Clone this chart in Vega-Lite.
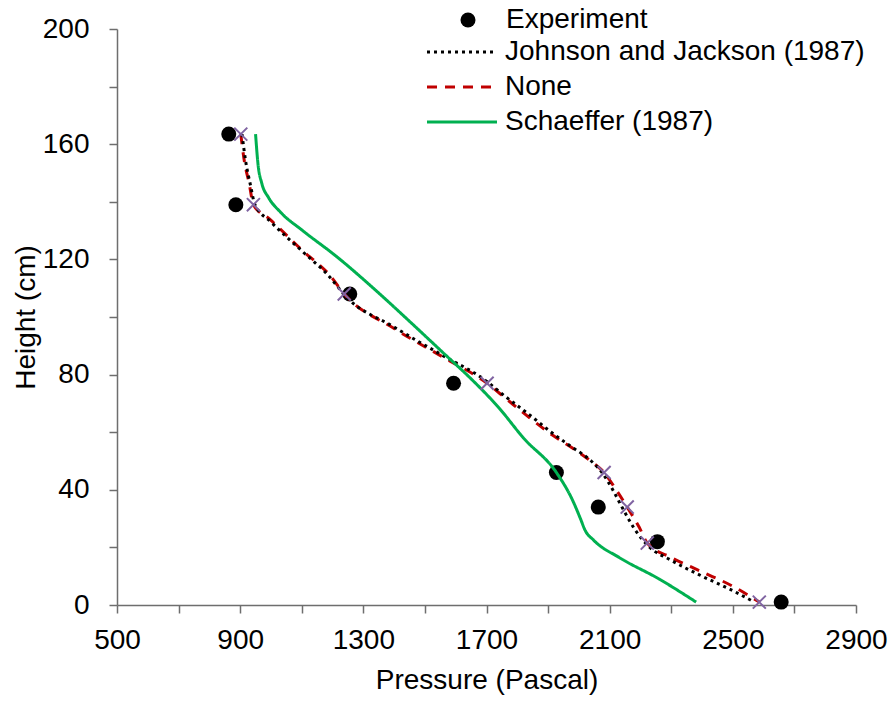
{
  "$schema": "https://vega.github.io/schema/vega-lite/v6.json",
  "width": 739,
  "height": 576,
  "autosize": {"type": "none"},
  "padding": {"left": 117, "top": 29, "right": 38, "bottom": 99},
  "background": "white",
  "config": {
    "view": {"stroke": null},
    "font": "Liberation Sans",
    "axis": {
      "grid": false,
      "domainColor": "#6e6e6e",
      "domainWidth": 1.5,
      "tickColor": "#6e6e6e",
      "tickWidth": 1.5,
      "tickSize": 8,
      "labelFont": "Liberation Sans",
      "labelFontSize": 28,
      "labelColor": "black",
      "titleFont": "Liberation Sans",
      "titleFontSize": 28,
      "titleFontWeight": "normal",
      "titleColor": "black"
    },
    "legend": {
      "labelFont": "Liberation Sans",
      "labelFontSize": 28,
      "labelColor": "black",
      "labelLimit": 0
    }
  },
  "data": {
    "values": [
      {"series": "Experiment", "pressure": 863, "height": 163.5},
      {"series": "Experiment", "pressure": 886, "height": 139},
      {"series": "Experiment", "pressure": 1256, "height": 108},
      {"series": "Experiment", "pressure": 1593, "height": 77},
      {"series": "Experiment", "pressure": 1927, "height": 46},
      {"series": "Experiment", "pressure": 2063, "height": 34},
      {"series": "Experiment", "pressure": 2255, "height": 22},
      {"series": "Experiment", "pressure": 2657, "height": 1},
      {"series": "None", "pressure": 902, "height": 163.5, "marker": true},
      {"series": "None", "pressure": 913, "height": 154.5},
      {"series": "None", "pressure": 929, "height": 146.5},
      {"series": "None", "pressure": 943, "height": 139, "marker": true},
      {"series": "None", "pressure": 996, "height": 134},
      {"series": "None", "pressure": 1103, "height": 123},
      {"series": "None", "pressure": 1191, "height": 114.5},
      {"series": "None", "pressure": 1238, "height": 108, "marker": true},
      {"series": "None", "pressure": 1400, "height": 96},
      {"series": "None", "pressure": 1560, "height": 86},
      {"series": "None", "pressure": 1702, "height": 77, "marker": true},
      {"series": "None", "pressure": 1765, "height": 71.5},
      {"series": "None", "pressure": 1840, "height": 65},
      {"series": "None", "pressure": 1914, "height": 59},
      {"series": "None", "pressure": 1979, "height": 54.5},
      {"series": "None", "pressure": 2044, "height": 49.5},
      {"series": "None", "pressure": 2082, "height": 46, "marker": true},
      {"series": "None", "pressure": 2121, "height": 40},
      {"series": "None", "pressure": 2157, "height": 34, "marker": true},
      {"series": "None", "pressure": 2196, "height": 27},
      {"series": "None", "pressure": 2222, "height": 21.5, "marker": true},
      {"series": "None", "pressure": 2300, "height": 16.5},
      {"series": "None", "pressure": 2400, "height": 11.5},
      {"series": "None", "pressure": 2500, "height": 6.5},
      {"series": "None", "pressure": 2586, "height": 1, "marker": true},
      {"series": "Johnson and Jackson (1987)", "pressure": 906, "height": 163.5},
      {"series": "Johnson and Jackson (1987)", "pressure": 918, "height": 154},
      {"series": "Johnson and Jackson (1987)", "pressure": 933, "height": 146},
      {"series": "Johnson and Jackson (1987)", "pressure": 948, "height": 139},
      {"series": "Johnson and Jackson (1987)", "pressure": 1000, "height": 133},
      {"series": "Johnson and Jackson (1987)", "pressure": 1105, "height": 122.5},
      {"series": "Johnson and Jackson (1987)", "pressure": 1190, "height": 114},
      {"series": "Johnson and Jackson (1987)", "pressure": 1240, "height": 107.5},
      {"series": "Johnson and Jackson (1987)", "pressure": 1400, "height": 96.5},
      {"series": "Johnson and Jackson (1987)", "pressure": 1560, "height": 86.5},
      {"series": "Johnson and Jackson (1987)", "pressure": 1690, "height": 78.5},
      {"series": "Johnson and Jackson (1987)", "pressure": 1760, "height": 72.5},
      {"series": "Johnson and Jackson (1987)", "pressure": 1840, "height": 66},
      {"series": "Johnson and Jackson (1987)", "pressure": 1910, "height": 60},
      {"series": "Johnson and Jackson (1987)", "pressure": 1975, "height": 55},
      {"series": "Johnson and Jackson (1987)", "pressure": 2040, "height": 50},
      {"series": "Johnson and Jackson (1987)", "pressure": 2075, "height": 46},
      {"series": "Johnson and Jackson (1987)", "pressure": 2110, "height": 40},
      {"series": "Johnson and Jackson (1987)", "pressure": 2145, "height": 33},
      {"series": "Johnson and Jackson (1987)", "pressure": 2180, "height": 26.5},
      {"series": "Johnson and Jackson (1987)", "pressure": 2225, "height": 20.5},
      {"series": "Johnson and Jackson (1987)", "pressure": 2300, "height": 15.5},
      {"series": "Johnson and Jackson (1987)", "pressure": 2400, "height": 10},
      {"series": "Johnson and Jackson (1987)", "pressure": 2490, "height": 5.5},
      {"series": "Johnson and Jackson (1987)", "pressure": 2570, "height": 1},
      {"series": "Schaeffer (1987)", "pressure": 950, "height": 163.5},
      {"series": "Schaeffer (1987)", "pressure": 958, "height": 153},
      {"series": "Schaeffer (1987)", "pressure": 970, "height": 146.5},
      {"series": "Schaeffer (1987)", "pressure": 992, "height": 141.5},
      {"series": "Schaeffer (1987)", "pressure": 1030, "height": 136.5},
      {"series": "Schaeffer (1987)", "pressure": 1103, "height": 130},
      {"series": "Schaeffer (1987)", "pressure": 1213, "height": 121},
      {"series": "Schaeffer (1987)", "pressure": 1343, "height": 109},
      {"series": "Schaeffer (1987)", "pressure": 1450, "height": 98.5},
      {"series": "Schaeffer (1987)", "pressure": 1560, "height": 87.5},
      {"series": "Schaeffer (1987)", "pressure": 1655, "height": 78},
      {"series": "Schaeffer (1987)", "pressure": 1740, "height": 68.5},
      {"series": "Schaeffer (1987)", "pressure": 1820, "height": 58},
      {"series": "Schaeffer (1987)", "pressure": 1927, "height": 46},
      {"series": "Schaeffer (1987)", "pressure": 1979, "height": 36.5},
      {"series": "Schaeffer (1987)", "pressure": 2005, "height": 30},
      {"series": "Schaeffer (1987)", "pressure": 2020, "height": 26},
      {"series": "Schaeffer (1987)", "pressure": 2048, "height": 22.5},
      {"series": "Schaeffer (1987)", "pressure": 2131, "height": 16.5},
      {"series": "Schaeffer (1987)", "pressure": 2261, "height": 9},
      {"series": "Schaeffer (1987)", "pressure": 2381, "height": 1}
    ]
  },
  "encoding": {
    "x": {
      "field": "pressure", "type": "quantitative",
      "scale": {"domain": [500, 2900], "nice": false, "zero": false},
      "axis": {
        "title": "Pressure (Pascal)",
        "values": [500, 700, 900, 1100, 1300, 1500, 1700, 1900, 2100, 2300, 2500, 2700, 2900],
        "format": "d",
        "labelExpr": "(datum.value - 500) % 400 === 0 ? datum.label : ''",
        "labelPadding": 13,
        "titlePadding": 12,
        "labelFlush": false,
        "labelOverlap": false
      }
    },
    "y": {
      "field": "height", "type": "quantitative",
      "scale": {"domain": [0, 200], "nice": false},
      "axis": {
        "title": "Height (cm)",
        "values": [0, 20, 40, 60, 80, 100, 120, 140, 160, 180, 200],
        "labelExpr": "datum.value % 40 === 0 ? datum.label : ''",
        "labelPadding": 20,
        "titlePadding": 2,
        "labelFlush": false,
        "labelOverlap": false
      }
    }
  },
  "layer": [
    {
      "transform": [{"filter": "datum.series === 'Experiment'"}],
      "mark": {"type": "point", "filled": true, "size": 225, "opacity": 1, "color": "black"},
      "encoding": {
        "shape": {
          "field": "series", "type": "nominal",
          "scale": {"domain": ["Experiment"], "range": ["circle"]},
          "legend": {
            "title": null,
            "orient": "none",
            "legendX": 337,
            "legendY": -23,
            "symbolSize": 225,
            "symbolFillColor": "black",
            "symbolStrokeWidth": 0,
            "labelOffset": 24
          }
        }
      }
    },
    {
      "transform": [{"filter": "datum.series !== 'Experiment'"}],
      "mark": {"type": "line", "strokeWidth": 3, "interpolate": "monotone"},
      "encoding": {
        "color": {
          "field": "series", "type": "nominal",
          "scale": {
            "domain": ["Johnson and Jackson (1987)", "None", "Schaeffer (1987)"],
            "range": ["black", "#C00000", "#00B050"]
          },
          "legend": {
            "title": null,
            "orient": "none",
            "legendX": 331,
            "legendY": 9,
            "symbolType": "M-7,0H7",
            "symbolSize": 100,
            "symbolStrokeWidth": 3,
            "rowPadding": 7,
            "labelOffset": 29
          }
        },
        "strokeDash": {
          "field": "series", "type": "nominal",
          "scale": {
            "domain": ["Johnson and Jackson (1987)", "None", "Schaeffer (1987)"],
            "range": [[3, 4], [10, 8], [1, 0]]
          },
          "legend": {
            "title": null,
            "orient": "none",
            "legendX": 331,
            "legendY": 9,
            "symbolType": "M-7,0H7",
            "symbolSize": 100,
            "symbolStrokeWidth": 3,
            "rowPadding": 7,
            "labelOffset": 29
          }
        }
      }
    },
    {
      "transform": [{"filter": "datum.series === 'None' && datum.marker"}],
      "mark": {"type": "point", "shape": "M-1,-1L1,1M-1,1L1,-1", "filled": false, "stroke": "#8064A2", "strokeWidth": 2, "size": 170, "opacity": 1},
      "encoding": {}
    }
  ]
}
